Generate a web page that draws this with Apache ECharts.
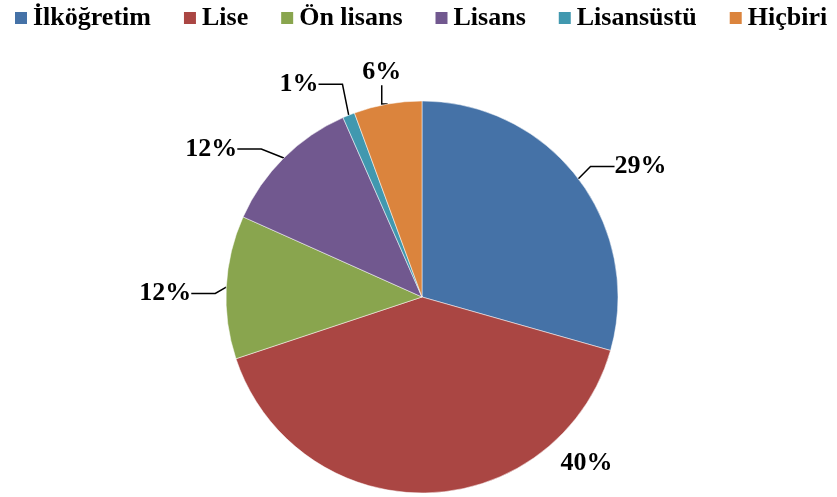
<!DOCTYPE html>
<html>
<head>
  <meta charset="utf-8">
  <title>Eğitim durumu</title>
  <script src="https://cdn.jsdelivr.net/npm/echarts@6/dist/echarts.min.js"></script>
</head>
<body style="margin:0;background:#fff">
<div id="main" style="width:837px;height:497px"></div>
<script type="text/javascript">
var categories = ['İlköğretim', 'Lise', 'Ön lisans', 'Lisans', 'Lisansüstü', 'Hiçbiri'];
var values = [29.4, 40.5, 11.8, 11.7, 1.0, 5.6];
var pctLabels = ['29%', '40%', '12%', '12%', '1%', '6%'];
var colors = ['#4572A7', '#AA4643', '#89A54E', '#71588F', '#4198AF', '#DB843D'];

// nudges so labels sit where the original chart put them
var labelShift = [[-4, -4], [105, -20], [3, 7], [-12, 1], [32, -34], [45, -18]];

var myChart = echarts.init(document.getElementById('main'));

var option = {
  backgroundColor: '#ffffff',
  color: colors,
  legend: {
    top: 5,
    left: 13,
    right: -20,
    padding: 0,
    itemWidth: 14,
    itemHeight: 14,
    itemGap: 31,
    icon: 'rect',
    textStyle: {
      fontFamily: 'Liberation Serif',
      fontWeight: 'bold',
      fontSize: 26,
      color: '#000'
    },
    data: categories
  },
  series: [{
    type: 'pie',
    center: [422, 297],
    radius: 196,
    startAngle: 90,
    clockwise: true,
    animation: false,
    itemStyle: {
      borderColor: '#ffffff',
      borderWidth: 0.5
    },
    label: {
      show: true,
      position: 'outside',
      formatter: function (p) { return pctLabels[p.dataIndex]; },
      fontFamily: 'Liberation Serif',
      fontWeight: 'bold',
      fontSize: 26,
      color: '#000'
    },
    labelLine: {
      show: true,
      length: 14,
      length2: 24,
      lineStyle: { color: '#000', width: 1.5 }
    },
    labelLayout: function (p) {
      var s = labelShift[p.dataIndex];
      var r = p.labelRect;
      var ax = p.align === 'right' ? r.x + r.width : (p.align === 'center' ? r.x + r.width / 2 : r.x);
      var ay = r.y + r.height / 2;
      return { x: ax + s[0], y: ay + s[1] };
    },
    data: categories.map(function (name, i) {
      var item = { name: name, value: values[i] };
      if (i === 1) {
        item.labelLine = { show: false };
      }
      return item;
    })
  }]
};

myChart.setOption(option);
</script>
</body>
</html>
